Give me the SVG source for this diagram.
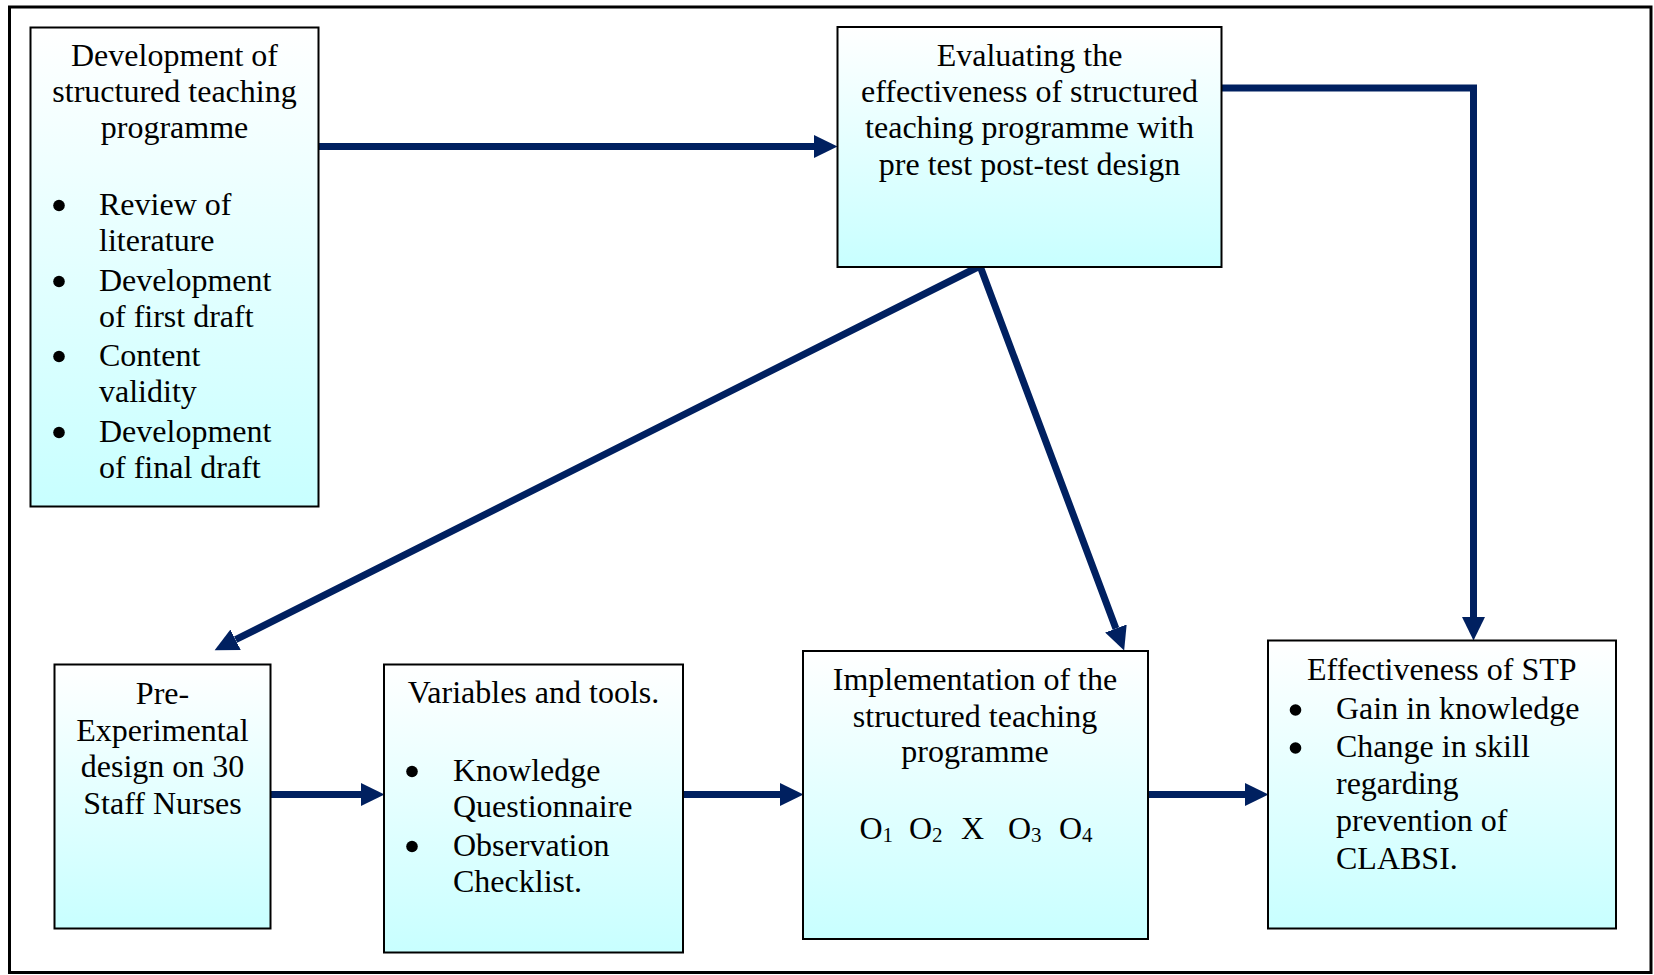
<svg xmlns="http://www.w3.org/2000/svg" width="1654" height="975" viewBox="0 0 1654 975">
<style>
.box{stroke:#000;stroke-width:2;fill:url(#g)}
.t{font-family:"Liberation Serif","Times New Roman",serif;font-size:32px;fill:#000}
.c{text-anchor:middle}
.dot{fill:#000}
.sub{font-size:21px}
.arr{fill:none;stroke:#002060;stroke-width:7;stroke-linejoin:miter}
</style>
<defs>
<linearGradient id="g" x1="0" y1="0" x2="0" y2="1">
<stop offset="0" stop-color="#ffffff"/>
<stop offset="1" stop-color="#c8ffff"/>
</linearGradient>
<marker id="ah" markerUnits="userSpaceOnUse" markerWidth="24" markerHeight="24" viewBox="0 0 24 24" refX="0" refY="12" orient="auto">
<path d="M0,0.5 L23.5,12 L0,23.5 z" fill="#002060"/>
</marker>
<marker id="ahs" markerUnits="userSpaceOnUse" markerWidth="24" markerHeight="24" viewBox="0 0 24 24" refX="0" refY="12" orient="auto-start-reverse">
<path d="M0,0.5 L23.5,12 L0,23.5 z" fill="#002060"/>
</marker>
</defs>
<rect x="0" y="0" width="1654" height="975" fill="#fff"/>
<rect x="9.5" y="7" width="1641.5" height="965.5" fill="none" stroke="#000" stroke-width="3"/>

<g id="connectors">
<path class="arr" d="M318,146.5 H814" marker-end="url(#ah)"/>
<path class="arr" d="M1222,88 H1473.5 V617" marker-end="url(#ah)"/>
<path class="arr" d="M235.6,639.7 L980,266 L1115.9,628.5" marker-start="url(#ahs)" marker-end="url(#ah)"/>
<path class="arr" d="M270,794.5 H361" marker-end="url(#ah)"/>
<path class="arr" d="M683,794.5 H780" marker-end="url(#ah)"/>
<path class="arr" d="M1148,794.5 H1245" marker-end="url(#ah)"/>
</g>

<g id="node-development">
<rect class="box" x="30.5" y="27.5" width="288" height="479"/>
<text class="t c" x="174.5" y="66">Development of</text>
<text class="t c" x="174.5" y="102">structured teaching</text>
<text class="t c" x="174.5" y="138">programme</text>
<circle class="dot" cx="59" cy="205.5" r="5.8"/>
<text class="t" x="99" y="215">Review of</text>
<text class="t" x="99" y="251">literature</text>
<circle class="dot" cx="59" cy="281.5" r="5.8"/>
<text class="t" x="99" y="291">Development</text>
<text class="t" x="99" y="327">of first draft</text>
<circle class="dot" cx="59" cy="356.5" r="5.8"/>
<text class="t" x="99" y="366">Content</text>
<text class="t" x="99" y="402">validity</text>
<circle class="dot" cx="59" cy="432.5" r="5.8"/>
<text class="t" x="99" y="442">Development</text>
<text class="t" x="99" y="478">of final draft</text>
</g>

<g id="node-evaluating">
<rect class="box" x="837.5" y="27" width="384" height="240"/>
<text class="t c" x="1029.5" y="66">Evaluating the</text>
<text class="t c" x="1029.5" y="102">effectiveness of structured</text>
<text class="t c" x="1029.5" y="138">teaching programme with</text>
<text class="t c" x="1029.5" y="175">pre test post-test design</text>
</g>

<g id="node-pre">
<rect class="box" x="54.5" y="664.5" width="216" height="264"/>
<text class="t c" x="162.5" y="704">Pre-</text>
<text class="t c" x="162.5" y="741">Experimental</text>
<text class="t c" x="162.5" y="777">design on 30</text>
<text class="t c" x="162.5" y="814">Staff Nurses</text>
</g>

<g id="node-variables">
<rect class="box" x="384" y="664.5" width="299" height="288"/>
<text class="t c" x="533.5" y="703">Variables and tools.</text>
<circle class="dot" cx="412" cy="771.5" r="5.8"/>
<text class="t" x="453" y="781">Knowledge</text>
<text class="t" x="453" y="817">Questionnaire</text>
<circle class="dot" cx="412" cy="846.5" r="5.8"/>
<text class="t" x="453" y="856">Observation</text>
<text class="t" x="453" y="892">Checklist.</text>
</g>

<g id="node-implementation">
<rect class="box" x="803" y="651" width="345" height="288"/>
<text class="t c" x="975" y="690">Implementation of the</text>
<text class="t c" x="975" y="727">structured teaching</text>
<text class="t c" x="975" y="762">programme</text>
<text class="t" y="839"><tspan x="859.5">O</tspan><tspan class="sub" dy="3">1</tspan><tspan x="909" dy="-3">O</tspan><tspan class="sub" dy="3">2</tspan><tspan x="961" dy="-3">X</tspan><tspan x="1008" dy="0">O</tspan><tspan class="sub" dy="3">3</tspan><tspan x="1059" dy="-3">O</tspan><tspan class="sub" dy="3">4</tspan></text>
</g>

<g id="node-effectiveness">
<rect class="box" x="1268" y="640.5" width="348" height="288"/>
<text class="t" x="1307" y="680">Effectiveness of STP</text>
<circle class="dot" cx="1295.5" cy="710" r="5.8"/>
<text class="t" x="1336" y="719">Gain in knowledge</text>
<circle class="dot" cx="1295.5" cy="748" r="5.8"/>
<text class="t" x="1336" y="757">Change in skill</text>
<text class="t" x="1336" y="794">regarding</text>
<text class="t" x="1336" y="831">prevention of</text>
<text class="t" x="1336" y="869">CLABSI.</text>
</g>
</svg>
